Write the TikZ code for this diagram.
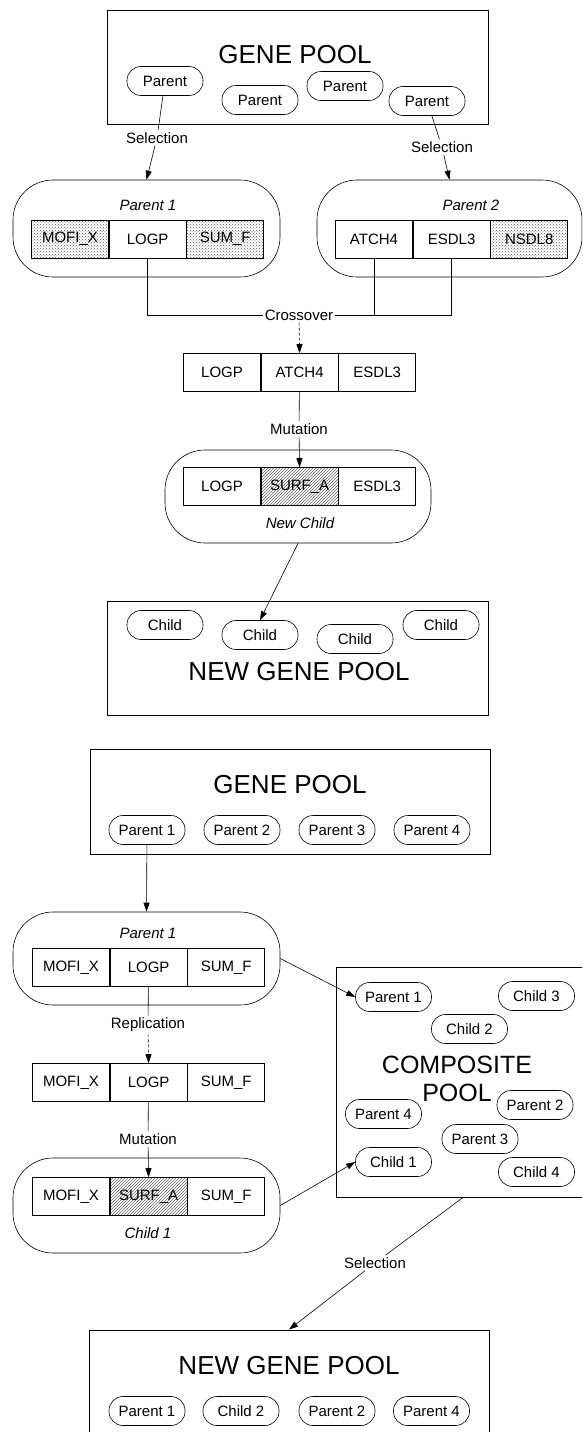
\documentclass[tikz,border=0pt]{standalone}
\usepackage{fontspec}
\setmainfont{Liberation Sans}
\usetikzlibrary{arrows.meta,positioning,patterns}
\newcommand{\poolfont}{\fontsize{26}{28}\selectfont}
\newcommand{\txtfont}{\fontsize{15}{17}\selectfont}

\begin{document}
\begin{tikzpicture}[x=1pt,y=-1pt,font=\txtfont,>={Triangle[length=9pt,width=6pt]},line width=0.6pt,
  pool/.style={draw,line width=0.9pt,inner sep=0pt},
  oval/.style={draw,fill=white,rounded corners=14pt,minimum width=76pt,minimum height=29pt,inner sep=0pt},
  capsule/.style={draw,rounded corners=40pt,minimum width=267pt,inner sep=0pt},
  gene/.style={draw,minimum width=77pt,minimum height=38pt,inner sep=0pt},
  dots/.style={pattern=crosshatch dots,pattern color=black!65},
  hatch/.style={pattern=north east lines,pattern color=black!60},
  lbl/.style={inner sep=2pt},
  tag/.style={font=\txtfont\itshape}]
\clip (0,0) rectangle (582,1432);

% first scheme: crossover
\node[pool,minimum width=381pt,minimum height=114pt] (gp) at (298,67) {};
\node[font=\poolfont] (gpt) at (295,55) {GENE POOL};
\node[oval] (op1) at (165,81) {Parent};
\node[oval] (op2) at (260,100) {Parent};
\node[oval] (op3) at (345,86) {Parent};
\node[oval] (op4) at (427,101) {Parent};

\node[capsule,minimum height=97pt] (cap1) at (146.5,228.5) {};
\node[tag] (cap1t) at (148,205) {Parent 1};
\node[gene,dots] (pa1) at (70,239) {MOFI\_X};
\node[gene,right=0pt of pa1] (pa2) {LOGP};
\node[gene,dots,right=0pt of pa2] (pa3) {SUM\_F};

\node[capsule,minimum height=97pt,minimum width=265pt] (cap2) at (449.5,228.5) {};
\node[tag] (cap2t) at (471,205) {Parent 2};
\node[gene] (pb1) at (374,239) {ATCH4};
\node[gene,right=0pt of pb1] (pb2) {ESDL3};
\node[gene,dots,right=0pt of pb2] (pb3) {NSDL8};

\node[lbl] (sel1) at (157,138) {Selection};
\node[lbl] (sel2) at (442,147) {Selection};
\draw (op1) -- (sel1); \draw[->] (sel1) -- (cap1.north);
\draw (op4) -- (sel2); \draw[->] (sel2) -- (cap2.north);

\node[lbl] (xo) at (299,315) {Crossover};
\draw (pa2.south) |- (xo.west);
\draw (pb1.south) |- (xo.east);
\draw (pb2.south) |- (xo.east);

\node[gene] (ca1) at (222,372.5) {LOGP};
\node[gene,right=0pt of ca1] (ca2) {ATCH4};
\node[gene,right=0pt of ca2] (ca3) {ESDL3};
\draw[->,densely dashed] (xo) -- (ca2.north);

\node[lbl] (mu1) at (299,429) {Mutation};
\draw (ca2) -- (mu1);
\node[capsule,minimum height=93pt,minimum width=266pt] (nc) at (298,496.5) {};
\node[gene] (cb1) at (222,486.5) {LOGP};
\node[gene,hatch,right=0pt of cb1] (cb2) {SURF\_A};
\node[gene,right=0pt of cb2] (cb3) {ESDL3};
\node[tag] (nct) at (300,523) {New Child};
\draw[->] (mu1) -- (cb2.north);

\node[pool,minimum width=381pt,minimum height=114pt] (ngp) at (298,658) {};
\node[font=\poolfont] (ngpt) at (299,672) {NEW GENE POOL};
\node[oval] (oc1) at (165,625) {Child};
\node[oval] (oc2) at (260,635) {Child};
\node[oval] (oc3) at (355,639) {Child};
\node[oval] (oc4) at (441,625) {Child};
\draw[->] (nc.south) -- (oc2.north);

% second scheme: replication
\node[pool,minimum width=400pt,minimum height=105pt] (gp2) at (290,801.5) {};
\node[font=\poolfont] (gp2t) at (290,785) {GENE POOL};
\node[oval] (gq1) at (147,830) {Parent 1};
\node[oval] (gq2) at (242,830) {Parent 2};
\node[oval] (gq3) at (337,830) {Parent 3};
\node[oval] (gq4) at (432,830) {Parent 4};

\node[capsule,minimum height=93pt] (cap3) at (146.5,958.5) {};
\node[tag] (cap3t) at (148,933) {Parent 1};
\node[gene] (pc1) at (71,967.5) {MOFI\_X};
\node[gene,right=0pt of pc1] (pc2) {LOGP};
\node[gene,right=0pt of pc2] (pc3) {SUM\_F};
\draw[->] (gq1) -- (cap3.north);

\node[lbl] (rep) at (148,1025) {Replication};
\draw (pc2) -- (rep);
\node[gene] (pd1) at (71,1082.5) {MOFI\_X};
\node[gene,right=0pt of pd1] (pd2) {LOGP};
\node[gene,right=0pt of pd2] (pd3) {SUM\_F};
\draw[->,densely dashed] (rep) -- (pd2.north);

\node[lbl] (mu2) at (148,1139) {Mutation};
\draw (pd2) -- (mu2);
\node[capsule,minimum height=95pt] (cap4) at (146.5,1205.5) {};
\node[gene] (pe1) at (71,1196.5) {MOFI\_X};
\node[gene,hatch,right=0pt of pe1] (pe2) {SURF\_A};
\node[gene,right=0pt of pe2] (pe3) {SUM\_F};
\node[tag] (cap4t) at (148,1233) {Child 1};
\draw[->] (mu2) -- (pe2.north);

\node[pool,minimum width=254pt,minimum height=230pt] (comp) at (463,1082) {};
\node[oval] (kp1) at (393.5,997) {Parent 1};
\node[oval] (kc3) at (536.5,996) {Child 3};
\node[oval] (kc2) at (469.5,1029) {Child 2};
\node[oval] (kp4) at (383.5,1114) {Parent 4};
\node[oval,fill=none] (kp2) at (535,1105) {Parent 2};
\node[oval] (kp3) at (480,1139) {Parent 3};
\node[oval] (kc1) at (393.5,1162) {Child 1};
\node[oval] (kc4) at (536.5,1172) {Child 4};
\node[font=\fontsize{25}{28}\selectfont,align=center] (compt) at (457,1079) {COMPOSITE\\POOL};
\draw[->] (cap3.east) -- (kp1.west);
\draw[->] (cap4.east) -- (kc1.west);

\node[pool,minimum width=400pt,minimum height=110pt] (ngp2) at (289,1385) {};
\node[font=\poolfont] (ngp2t) at (289,1366) {NEW GENE POOL};
\node[oval] (nq1) at (147,1411) {Parent 1};
\node[oval] (nq2) at (241,1411) {Child 2};
\node[oval] (nq3) at (337,1411) {Parent 2};
\node[oval] (nq4) at (431.5,1411) {Parent 4};

\node[lbl] (sel3) at (375,1263) {Selection};
\draw (comp.south) -- (sel3);
\draw[->] (sel3) -- (ngp2.north);
\end{tikzpicture}
\end{document}
